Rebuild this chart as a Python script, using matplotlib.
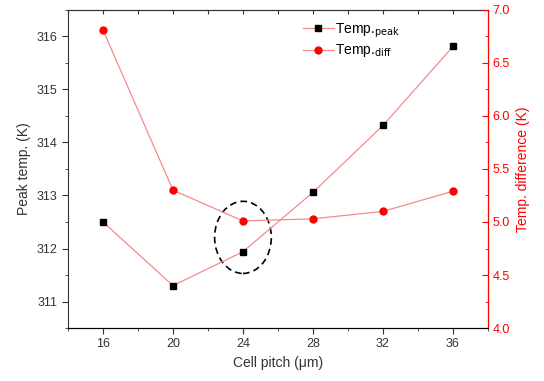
import numpy as np
import matplotlib.pyplot as plt
from matplotlib.patches import Ellipse

plt.rcParams['font.family'] = ['Liberation Sans', 'DejaVu Sans']

# data
pitch = [16, 20, 24, 28, 32, 36]
peak_temp = [312.50, 311.30, 311.94, 313.06, 314.32, 315.81]
temp_diff = [6.81, 5.30, 5.01, 5.03, 5.10, 5.29]

line_col = '#f28c8c'

fig = plt.figure(figsize=(5.44, 3.81), dpi=100)
ax = fig.add_axes([0.125, 0.139, 0.772, 0.835])
ax2 = ax.twinx()

l1, = ax.plot(pitch, peak_temp, '-', color=line_col, lw=0.9,
              marker='s', ms=4.5, mfc='black', mec='black')
l2, = ax2.plot(pitch, temp_diff, '-', color=line_col, lw=0.9,
               marker='o', ms=5, mfc='red', mec='red')

ax.set_xlim(14, 38)
ax.set_ylim(310.5, 316.5)
ax2.set_ylim(4.0, 7.0)

ax.set_xticks([16, 20, 24, 28, 32, 36])
ax.set_xticks(np.arange(14, 39, 2), minor=True)
ax.set_yticks([311, 312, 313, 314, 315, 316])
ax.set_yticks(np.arange(310.5, 316.6, 0.5), minor=True)
ax2.set_yticks([4.0, 4.5, 5.0, 5.5, 6.0, 6.5, 7.0])
ax2.set_yticks(np.arange(4.0, 7.01, 0.25), minor=True)
ax2.set_yticklabels(['4.0', '4.5', '5.0', '5.5', '6.0', '6.5', '7.0'])

ax.tick_params(axis='both', which='major', labelsize=9, colors='#333333', length=4)
ax.tick_params(axis='both', which='minor', length=2.5, colors='#333333')
ax2.tick_params(axis='y', which='major', labelsize=9, colors='red', length=4, direction='in')
ax2.tick_params(axis='y', which='minor', colors='red', length=2.5, direction='in')
ax2.spines['right'].set_color('red')
for s in ['left', 'bottom', 'top']:
    ax.spines[s].set_color('#333333')
ax2.spines['left'].set_visible(False)
ax2.spines['top'].set_visible(False)

# top axis: ticks pointing inward, no labels
top = ax.secondary_xaxis('top')
top.set_xticks(np.arange(14, 39, 2))
top.tick_params(direction='in', length=3, labeltop=False, colors='#333333')
top.spines['top'].set_color('#333333')

ax.set_xlabel('Cell pitch (\u03bcm)', fontsize=10, color='#333333')
ax.set_ylabel('Peak temp. (K)', fontsize=10, color='#333333')
ax2.set_ylabel('Temp. difference (K)', fontsize=10, color='red')

ell = Ellipse((24, 312.21), 3.24, 1.36, fill=False, ls=(0, (4, 2.5)),
              lw=1.2, ec='black')
ax.add_patch(ell)

ax.legend([l1, l2], [r'Temp.$_{\rm peak}$', r'Temp.$_{\rm diff}$'],
          loc='upper left', bbox_to_anchor=(0.54, 0.99), frameon=False,
          fontsize=10, handlelength=2.2, handletextpad=0.1,
          labelspacing=0.2, borderaxespad=0.2)

fig.savefig('out.png', dpi=100)
